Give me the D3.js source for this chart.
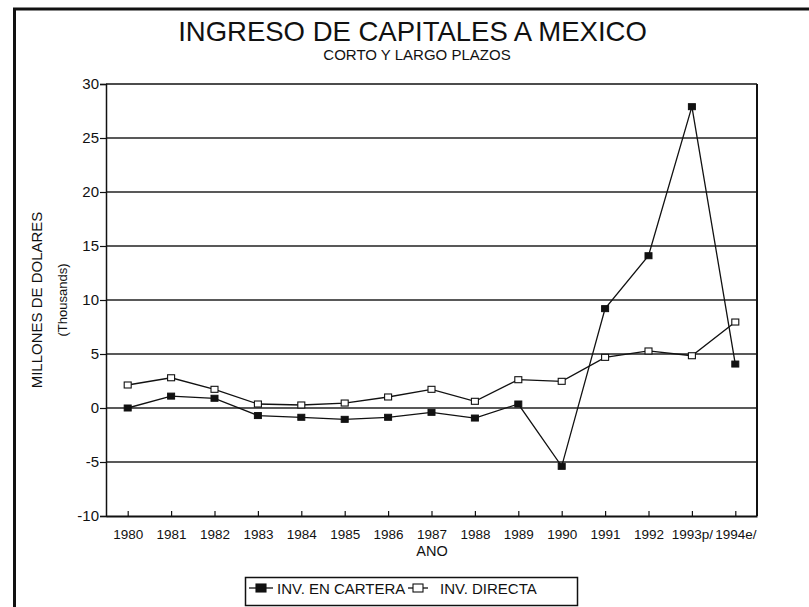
<!DOCTYPE html>
<html>
<head>
<meta charset="utf-8">
<script src="https://cdn.jsdelivr.net/npm/d3@7"></script>
<style>
  html, body { margin: 0; padding: 0; background: #fff; }
  svg { display: block; }
  text { font-family: "Liberation Sans", Arial, Helvetica, sans-serif; fill: #111; }
</style>
</head>
<body>
<svg id="chart" width="809" height="607"></svg>
<script>
const years = ["1980","1981","1982","1983","1984","1985","1986","1987","1988","1989","1990","1991","1992","1993p/","1994e/"];
const carteraValues = [0.0, 1.1, 0.9, -0.7, -0.86, -1.05, -0.86, -0.4, -0.93, 0.37, -5.4, 9.2, 14.1, 27.9, 4.07];
const directaValues = [2.13, 2.8, 1.73, 0.37, 0.28, 0.46, 1.02, 1.73, 0.62, 2.62, 2.47, 4.69, 5.28, 4.84, 7.96];
const yTicks = [-10, -5, 0, 5, 10, 15, 20, 25, 30];
const titleText = "INGRESO DE CAPITALES A MEXICO";
const subtitleText = "CORTO Y LARGO PLAZOS";
const yLabel = "MILLONES DE DOLARES";
const yUnits = "(Thousands)";
const xLabel = "ANO";
const seriesNames = ["INV. EN CARTERA", "INV. DIRECTA"];

(function () {
const svg = d3.select("#chart");
const pLeft = 106, pRight = 757, pTop = 84, pBottom = 516;

const x = d3.scalePoint().domain(years).range([pLeft, pRight]).padding(0.5);
const y = d3.scaleLinear().domain([-10, 30]).range([pBottom, pTop]);

// outer frame
svg.append("path").attr("d", "M14.5,607 V9 H809")
  .attr("fill", "none").attr("stroke", "#111").attr("stroke-width", 3);

// titles
svg.append("text").attr("x", 412.5).attr("y", 40.5).attr("text-anchor", "middle")
  .attr("font-size", 27.5).text(titleText);
svg.append("text").attr("x", 417).attr("y", 60).attr("text-anchor", "middle")
  .attr("font-size", 15).text(subtitleText);

// gridlines
svg.append("g").selectAll("line").data(yTicks.filter(d => d > -10 && d < 30)).join("line")
  .attr("x1", pLeft).attr("x2", pRight).attr("y1", d => y(d)).attr("y2", d => y(d))
  .attr("stroke", "#222").attr("stroke-width", 1.3);

// plot frame
svg.append("line").attr("x1", pLeft).attr("x2", pRight).attr("y1", y(30)).attr("y2", y(30))
  .attr("stroke", "#111").attr("stroke-width", 1.5);
svg.append("line").attr("x1", pRight).attr("x2", pRight).attr("y1", y(30)).attr("y2", y(-10))
  .attr("stroke", "#111").attr("stroke-width", 2);

// y axis
const yAxis = d3.axisLeft(y).tickValues(yTicks).tickSize(6).tickPadding(1)
  .tickFormat(d => String(d));
const gy = svg.append("g").attr("transform", `translate(${pLeft},0)`).call(yAxis);
gy.select(".domain").attr("stroke", "#111").attr("stroke-width", 1.5);
gy.selectAll(".tick line").attr("stroke", "#111").attr("stroke-width", 1.2);
gy.selectAll(".tick text").attr("font-size", 15).attr("font-family", "Liberation Sans, Arial, sans-serif").attr("fill", "#111");

// x axis (ticks inside)
const xAxis = d3.axisBottom(x).tickSize(-5).tickPadding(13).tickSizeOuter(0);
const gx = svg.append("g").attr("transform", `translate(0,${pBottom})`).call(xAxis);
gx.select(".domain").attr("stroke", "#111").attr("stroke-width", 1.8);
gx.selectAll(".tick line").attr("stroke", "#111").attr("stroke-width", 1.2);
gx.selectAll(".tick text").attr("font-size", 13.5).attr("font-family", "Liberation Sans, Arial, sans-serif").attr("fill", "#111");

// axis titles
svg.append("text").attr("transform", "translate(42,300) rotate(-90)").attr("text-anchor", "middle")
  .attr("font-size", 15).text(yLabel);
svg.append("text").attr("transform", "translate(67,300) rotate(-90)").attr("text-anchor", "middle")
  .attr("font-size", 13).text(yUnits);
svg.append("text").attr("x", 432).attr("y", 556).attr("text-anchor", "middle")
  .attr("font-size", 14.5).text(xLabel);

// series
const line = d3.line().x((d, i) => x(years[i])).y(d => y(d));
svg.append("path").datum(directaValues).attr("d", line)
  .attr("fill", "none").attr("stroke", "#111").attr("stroke-width", 1.3);
svg.append("path").datum(carteraValues).attr("d", line)
  .attr("fill", "none").attr("stroke", "#111").attr("stroke-width", 1.3);

const ms = 7;
svg.append("g").selectAll("rect").data(directaValues).join("rect")
  .attr("x", (d, i) => x(years[i]) - ms / 2).attr("y", d => y(d) - (ms - 1) / 2)
  .attr("width", ms).attr("height", ms - 1)
  .attr("fill", "#fff").attr("stroke", "#111").attr("stroke-width", 1.1);
svg.append("g").selectAll("rect").data(carteraValues).join("rect")
  .attr("x", (d, i) => x(years[i]) - ms / 2).attr("y", d => y(d) - (ms - 1) / 2)
  .attr("width", ms).attr("height", ms - 1)
  .attr("fill", "#111").attr("stroke", "#111").attr("stroke-width", 1);

// legend
const lg = svg.append("g");
lg.append("rect").attr("x", 245.5).attr("y", 577.5).attr("width", 332).attr("height", 28)
  .attr("fill", "#fff").attr("stroke", "#111").attr("stroke-width", 1.5);
const legendItems = [
  { name: seriesNames[0], x1: 249, x2: 273, filled: true, tx: 277 },
  { name: seriesNames[1], x1: 408, x2: 428, filled: false, tx: 440 }
];
legendItems.forEach(it => {
  const cy = 588;
  lg.append("line").attr("x1", it.x1).attr("x2", it.x2).attr("y1", cy).attr("y2", cy)
    .attr("stroke", "#111").attr("stroke-width", 1.3);
  const cx = (it.x1 + it.x2) / 2;
  lg.append("rect").attr("x", cx - 5).attr("y", cy - 4).attr("width", 10).attr("height", 8)
    .attr("fill", it.filled ? "#111" : "#fff").attr("stroke", "#111").attr("stroke-width", 1.1);
  lg.append("text").attr("x", it.tx).attr("y", 594).attr("font-size", 15).text(it.name);
});
})();
</script>
</body>
</html>
